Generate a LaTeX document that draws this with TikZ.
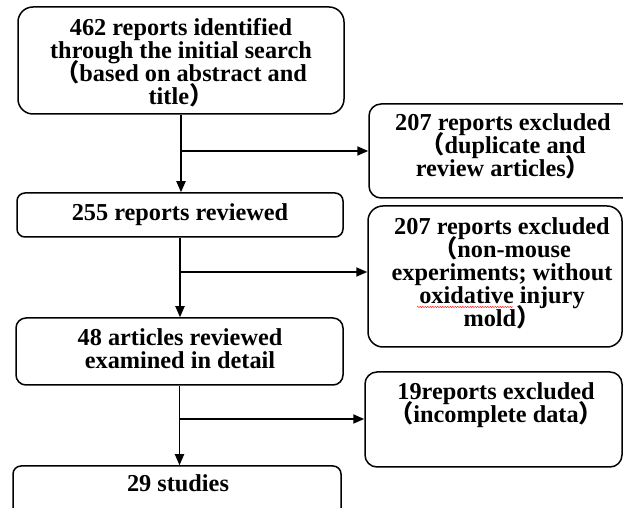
\documentclass[tikz,border=0pt]{standalone}
\usepackage{fontspec}
\setmainfont{Liberation Serif}
\newfontfamily\cjk{Noto Sans CJK SC}
\usetikzlibrary{arrows.meta,decorations.pathmorphing}
\newcommand{\lpar}{{\cjk （}}
\newcommand{\rpar}{{\cjk ）}}
\newcommand{\tightlines}{\lineskiplimit=-50pt\relax\lineskip=0pt\relax}
\begin{document}
\begin{tikzpicture}[x=1pt,y=1pt,
  frame/.style={draw, line width=1.5pt, inner sep=0pt},
  txt/.style={font=\bfseries\fontsize{24.3}{23}\selectfont\tightlines, align=center, inner sep=0pt},
  arr/.style={line width=1.8pt, -{Triangle[length=11pt,width=9pt]}}]
\useasboundingbox (0,0) rectangle (623,508);
% boxes
\node[frame, rounded corners=15pt, minimum width=326pt, minimum height=107pt] (box1) at (181,447.5) {};
\node[frame, rounded corners=8pt, minimum width=326pt, minimum height=44pt] (box2) at (180,293) {};
\node[frame, rounded corners=12pt, minimum width=271pt, minimum height=94pt] (box3) at (504.5,357) {};
\node[frame, rounded corners=15pt, minimum width=254pt, minimum height=141pt] (box4) at (495,231.5) {};
\node[frame, rounded corners=10pt, minimum width=327pt, minimum height=67pt] (box5) at (179.5,156.5) {};
\node[frame, rounded corners=12pt, minimum width=257pt, minimum height=95pt] (box6) at (493.5,88.5) {};
\node[frame, rounded corners=8pt, minimum width=328pt, minimum height=54pt] (box7) at (177,15) {};
% texts
\node[txt] (t1) at (181,445) {462 reports identified\\through the initial search\\\lpar based on abstract and\\title\rpar};
\node[txt] (t2) at (180,293.5) {255 reports reviewed};
\node[txt] (t3) at (503,362) {207 reports excluded\\\lpar duplicate and\\review articles\rpar};
\node[txt] (t4) at (502,235) {207 reports excluded\\\lpar non-mouse\\experiments; without\\oxidative injury\\mold\rpar};
\node[txt] (t5) at (180,159.5) {48 articles reviewed\\examined in detail};
\node[txt] (t6) at (496,102.5) {19reports excluded\\\lpar incomplete data\rpar};
\node[txt] (t7) at (178,24.5) {29 studies};
% spell-check mark
\draw[red, line width=0.5pt, decorate, decoration={snake, amplitude=0.5pt, segment length=2.5pt}] (417,201) -- (513,201);
% connectors
\coordinate (j1) at (box1.south |- 0,357);
\coordinate (j2) at (box2.south |- 0,236);
\coordinate (j3) at (box5.south |- 0,89);
\draw[arr] (box1.south) -- (box1.south |- box2.north);
\draw[arr] (j1) -- (j1 -| box3.west);
\draw[arr] (box2.south) -- (box2.south |- box5.north);
\draw[arr] (j2) -- (j2 -| box4.west);
\draw[arr] (box5.south) -- (box5.south |- box7.north);
\draw[arr] (j3) -- (j3 -| box6.west);
\end{tikzpicture}
\end{document}
